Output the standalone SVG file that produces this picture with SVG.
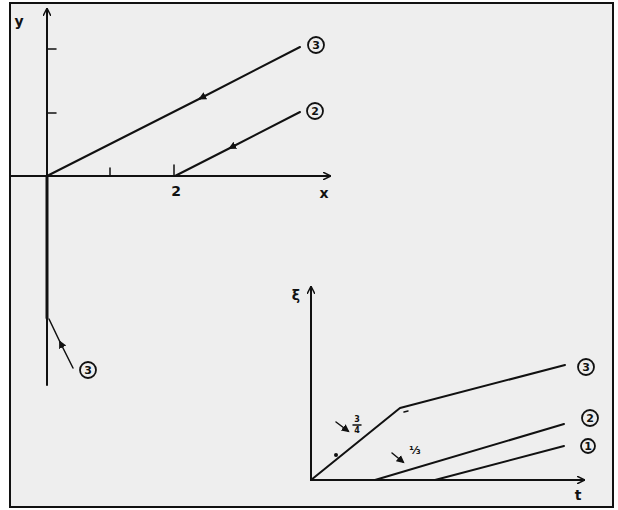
<svg xmlns="http://www.w3.org/2000/svg" width="618" height="510" viewBox="0 0 618 510">
<defs>
<style>
.ln{stroke:#111;stroke-width:2;fill:none;stroke-linecap:round;stroke-linejoin:round}
.th{stroke:#111;stroke-width:1.5;fill:none;stroke-linecap:round}
.lbl{font-family:"DejaVu Sans",sans-serif;font-size:14px;font-weight:bold;fill:#111;text-anchor:middle}
.num{font-family:"DejaVu Sans",sans-serif;font-size:11px;font-weight:bold;fill:#111;text-anchor:middle}
.circ{stroke:#111;stroke-width:1.8;fill:none}
</style>
<marker id="ah" viewBox="0 0 10 10" refX="9" refY="5" markerWidth="8" markerHeight="8" orient="auto" markerUnits="userSpaceOnUse">
<path d="M0,0 L10,5 L0,10" fill="none" stroke="#111" stroke-width="1.8"/>
</marker>
<marker id="mid" viewBox="0 0 10 10" refX="6" refY="5" markerWidth="10" markerHeight="10" orient="auto" markerUnits="userSpaceOnUse">
<path d="M0,1 L8,5 L0,9 Z" fill="#111"/>
</marker>
</defs>
<rect x="0" y="0" width="618" height="510" fill="#fff"/>
<rect x="10" y="3" width="603" height="504" fill="#eeeeee" stroke="#111" stroke-width="2"/>

<g id="top-axes">
<line class="ln" x1="47" y1="385" x2="47" y2="9" marker-end="url(#ah)"/>
<line class="ln" x1="11" y1="176" x2="330" y2="176" marker-end="url(#ah)"/>
<line class="th" x1="47" y1="49" x2="56" y2="49"/>
<line class="th" x1="47" y1="113" x2="56" y2="113"/>
<line class="th" x1="110" y1="168" x2="110" y2="176"/>
<line class="th" x1="174" y1="165" x2="174" y2="176"/>
<text class="lbl" x="19" y="26">y</text>
<text class="lbl" x="176" y="196">2</text>
<text class="lbl" x="324" y="198">x</text>
</g>

<g id="connectors">
<polyline class="ln" style="stroke-width:3" points="47,176 47,318"/>
<line class="ln" x1="300" y1="47" x2="200" y2="98.5" marker-end="url(#mid)"/>
<line class="ln" x1="200" y1="98.5" x2="47" y2="176"/>
<line class="ln" x1="300" y1="112" x2="230" y2="148" marker-end="url(#mid)"/>
<line class="ln" x1="230" y1="148" x2="175" y2="176"/>
<line class="th" x1="73" y1="368" x2="60" y2="342" marker-end="url(#mid)"/>
<line class="th" x1="60" y1="342" x2="49" y2="319"/>
</g>

<g id="top-labels">
<g id="t3"><circle class="circ" cx="316" cy="45" r="8"/><text class="num" x="316" y="49">3</text></g>
<g id="t2"><circle class="circ" cx="315" cy="111" r="8"/><text class="num" x="315" y="115">2</text></g>
<g id="l3"><circle class="circ" cx="88" cy="370" r="8"/><text class="num" x="88" y="374">3</text></g>
</g>

<g id="bottom-axes">
<line class="ln" x1="311" y1="480" x2="311" y2="287" marker-end="url(#ah)"/>
<line class="ln" x1="311" y1="480" x2="584" y2="480" marker-end="url(#ah)"/>
<text class="lbl" x="296" y="300">ξ</text>
<text class="lbl" x="578" y="500">t</text>
</g>

<g id="bottom-curves">
<polyline class="ln" points="311,480 400,408 565,365"/>
<circle cx="336" cy="455" r="2" fill="#111"/>
<line class="th" x1="404" y1="412" x2="408" y2="411"/>
<line class="ln" x1="375" y1="480" x2="564" y2="424"/>
<line class="ln" x1="435" y1="480" x2="564" y2="446"/>
<line class="th" x1="336" y1="422" x2="348" y2="431" marker-end="url(#mid)"/>
<text class="num" x="357" y="422" style="font-size:8px">3</text>
<line class="th" x1="353" y1="425" x2="361" y2="425"/>
<text class="num" x="357" y="433" style="font-size:8px">4</text>
<line class="th" x1="392" y1="453" x2="403" y2="462" marker-end="url(#mid)"/>
<text class="num" x="415" y="454" style="font-size:11px">⅓</text>
</g>

<g id="bottom-labels">
<g id="b3"><circle class="circ" cx="586" cy="367" r="8"/><text class="num" x="586" y="371">3</text></g>
<g id="b2"><circle class="circ" cx="590" cy="418" r="8"/><text class="num" x="590" y="422">2</text></g>
<g id="b1"><circle class="circ" cx="588" cy="446" r="7"/><text class="num" x="588" y="450">1</text></g>
</g>
</svg>
